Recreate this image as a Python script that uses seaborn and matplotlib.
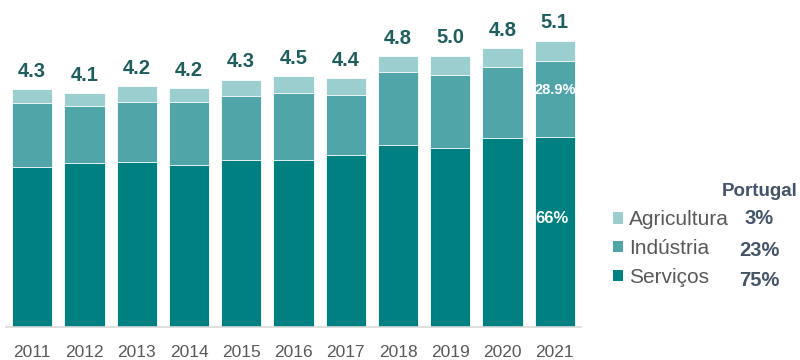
import matplotlib
matplotlib.use("Agg")
import matplotlib.pyplot as plt
from matplotlib.patches import Patch
import numpy as np
import pandas as pd
import seaborn as sns

# Dados (VAB por setor)
anos = ["2011", "2012", "2013", "2014", "2015", "2016", "2017", "2018", "2019", "2020", "2021"]
servicos = [2.88, 2.95, 2.97, 2.91, 3.00, 3.00, 3.09, 3.28, 3.22, 3.39, 3.42]
industria = [1.15, 1.03, 1.08, 1.13, 1.16, 1.20, 1.08, 1.30, 1.31, 1.29, 1.37]
agricultura = [0.25, 0.23, 0.28, 0.26, 0.29, 0.31, 0.31, 0.29, 0.35, 0.34, 0.36]
totais = ["4.3", "4.1", "4.2", "4.2", "4.3", "4.5", "4.4", "4.8", "5.0", "4.8", "5.1"]

setores = ["Agricultura", "Indústria", "Serviços"]
pct_portugal = ["3%", "23%", "75%"]
cores = ["#9BCFCF", "#4FA5A8", "#008080"]

df = pd.DataFrame({"ano": anos, "serv": servicos, "ind": industria, "agr": agricultura})
df["serv_ind"] = df["serv"] + df["ind"]
df["total"] = df["serv_ind"] + df["agr"]

sns.set_style("white")
plt.rcParams["font.family"] = ["Liberation Sans", "DejaVu Sans"]

fig = plt.figure(figsize=(8, 3.6), dpi=100)
ax = fig.add_axes([6 / 800, 33 / 360, 575 / 800, 327 / 360])

# barras empilhadas: total por trás, depois serviços+indústria, depois serviços
sns.barplot(data=df, x="ano", y="total", color=cores[0], width=0.77,
            saturation=1, edgecolor="white", linewidth=0.6, ax=ax)
sns.barplot(data=df, x="ano", y="serv_ind", color=cores[1], width=0.77,
            saturation=1, edgecolor="white", linewidth=0.6, ax=ax)
sns.barplot(data=df, x="ano", y="serv", color=cores[2], width=0.77,
            saturation=1, edgecolor="white", linewidth=0.6, ax=ax)

# rótulos dos totais
for i, (t, lab) in enumerate(zip(df["total"], totais)):
    ax.text(i, t + 0.32, lab, ha="center", va="center", fontsize=14.5,
            fontweight="bold", color="#1E5E5E")

# percentagens dentro da última barra
ult = len(anos) - 1
ax.text(ult, df["serv"][ult] + df["ind"][ult] * 0.62, "28.9%", ha="center", va="center",
        fontsize=10.5, fontweight="bold", color="white")
ax.text(ult - 0.05, df["serv"][ult] * 0.57, "66%", ha="center", va="center",
        fontsize=12, fontweight="bold", color="white")

ax.set_xlim(-0.5, 10.5)
ax.set_ylim(0, 5.88)
ax.set_xlabel("")
ax.set_ylabel("")
ax.set_yticks([])
ax.tick_params(axis="x", length=0, labelsize=12.5, labelcolor="#595959", pad=13)
for s in ["top", "right", "left"]:
    ax.spines[s].set_visible(False)
ax.spines["bottom"].set_color("#D9D9D9")
ax.spines["bottom"].set_linewidth(1.2)

# legenda
handles = [Patch(facecolor=c, edgecolor="none") for c in cores]
fig.legend(handles, setores, loc="upper left", bbox_to_anchor=(605 / 800, 1 - 202 / 360),
           frameon=False, fontsize=15, labelcolor="#595959", handlelength=0.45,
           handleheight=0.45, handletextpad=0.3, labelspacing=0.47, borderaxespad=0)

fig.text(760 / 800, 1 - 192 / 360, "Portugal", ha="center", va="center",
         fontsize=13.5, fontweight="bold", color="#44546A")
for y, p in zip([219, 250, 280], pct_portugal):
    fig.text(759 / 800, 1 - y / 360, p, ha="center", va="center",
             fontsize=14.5, fontweight="bold", color="#44546A")

fig.savefig("out.png", dpi=100)
